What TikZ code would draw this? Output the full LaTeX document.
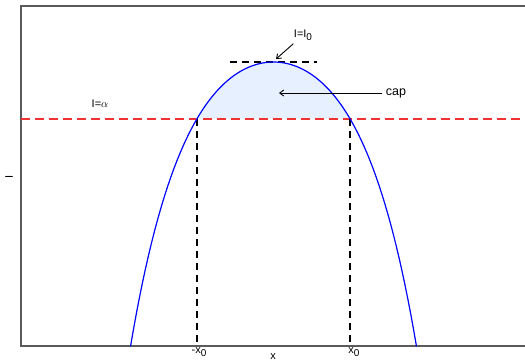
\documentclass[tikz,border=0pt]{standalone}
\usepackage{fontspec}
\setmainfont{Liberation Sans}
\usepackage{tikz}
\usetikzlibrary{arrows.meta,positioning}
\definecolor{capblue}{RGB}{230,240,255}
\definecolor{axisgray}{RGB}{90,90,90}
\definecolor{alphared}{RGB}{240,50,50}
\newcommand{\lowzero}{\raisebox{-0.45ex}{\fontsize{10}{10}\selectfont 0}}

\begin{document}
\begin{tikzpicture}[x=1pt,y=-1pt,font=\fontsize{11}{13}\selectfont,
        frame/.style={draw=axisgray,line width=1.4pt},
        guide/.style={draw=black,dash pattern=on 7pt off 5pt,line width=1.1pt},
        alphaline/.style={color=alphared,dash pattern=on 9pt off 5pt,line width=1.1pt},
        pointer/.style={-{Straight Barb[length=4pt,width=6pt]},line width=0.9pt}]
      \useasboundingbox (0,0) rectangle (525,362);
      % cap area under the curve
      \fill[capblue] plot[domain=-76.5:76.5,samples=60]
        ({273.5+\x},{62+52.5*(cosh(0.0178*\x)-1)}) -- cycle;
      % axes box
      \draw[frame] (525,6) -- (21,6) -- (21,346) -- (525,346);
      % reference lines
      \coordinate (la) at (21,119);
      \coordinate (ra) at (525,119);
      \draw[alphaline] (la) -- (ra);
      \coordinate (tl) at (230,62);
      \coordinate (tr) at (317,62);
      \draw[guide] (tl) -- (tr);
      \coordinate (mx) at (197,119);
      \coordinate (mxb) at (197,346);
      \coordinate (px) at (350,119);
      \coordinate (pxb) at (350,346);
      \draw[guide] (mx) -- (mxb);
      \draw[guide] (px) -- (pxb);
      % the curve
      \draw[blue,line width=1.2pt] plot[domain=-143:143,samples=100]
        ({273.5+\x},{62+52.5*(cosh(0.0178*\x)-1)});
      % labels
      \node (ylab) [rotate=90] at (9,177) {I};
      \node (xlab) at (273,357) {x};
      \node (mxl) at (199,352) {-x\lowzero};
      \node (pxl) at (354,352) {x\lowzero};
      \node (alab) at (100,104) {I=$\alpha$};
      \node (lzero) at (303,35) {I=I\lowzero};
      \node (capl) [font=\fontsize{12.5}{14}\selectfont] at (396,93) {cap};
      \coordinate (apex) at (276,59);
      \coordinate (capin) at (279,93);
      \draw[pointer] (lzero.south west) ++(3,0) -- (apex);
      \draw[pointer] (capl.west) -- (capin);
    \end{tikzpicture}
\end{document}
